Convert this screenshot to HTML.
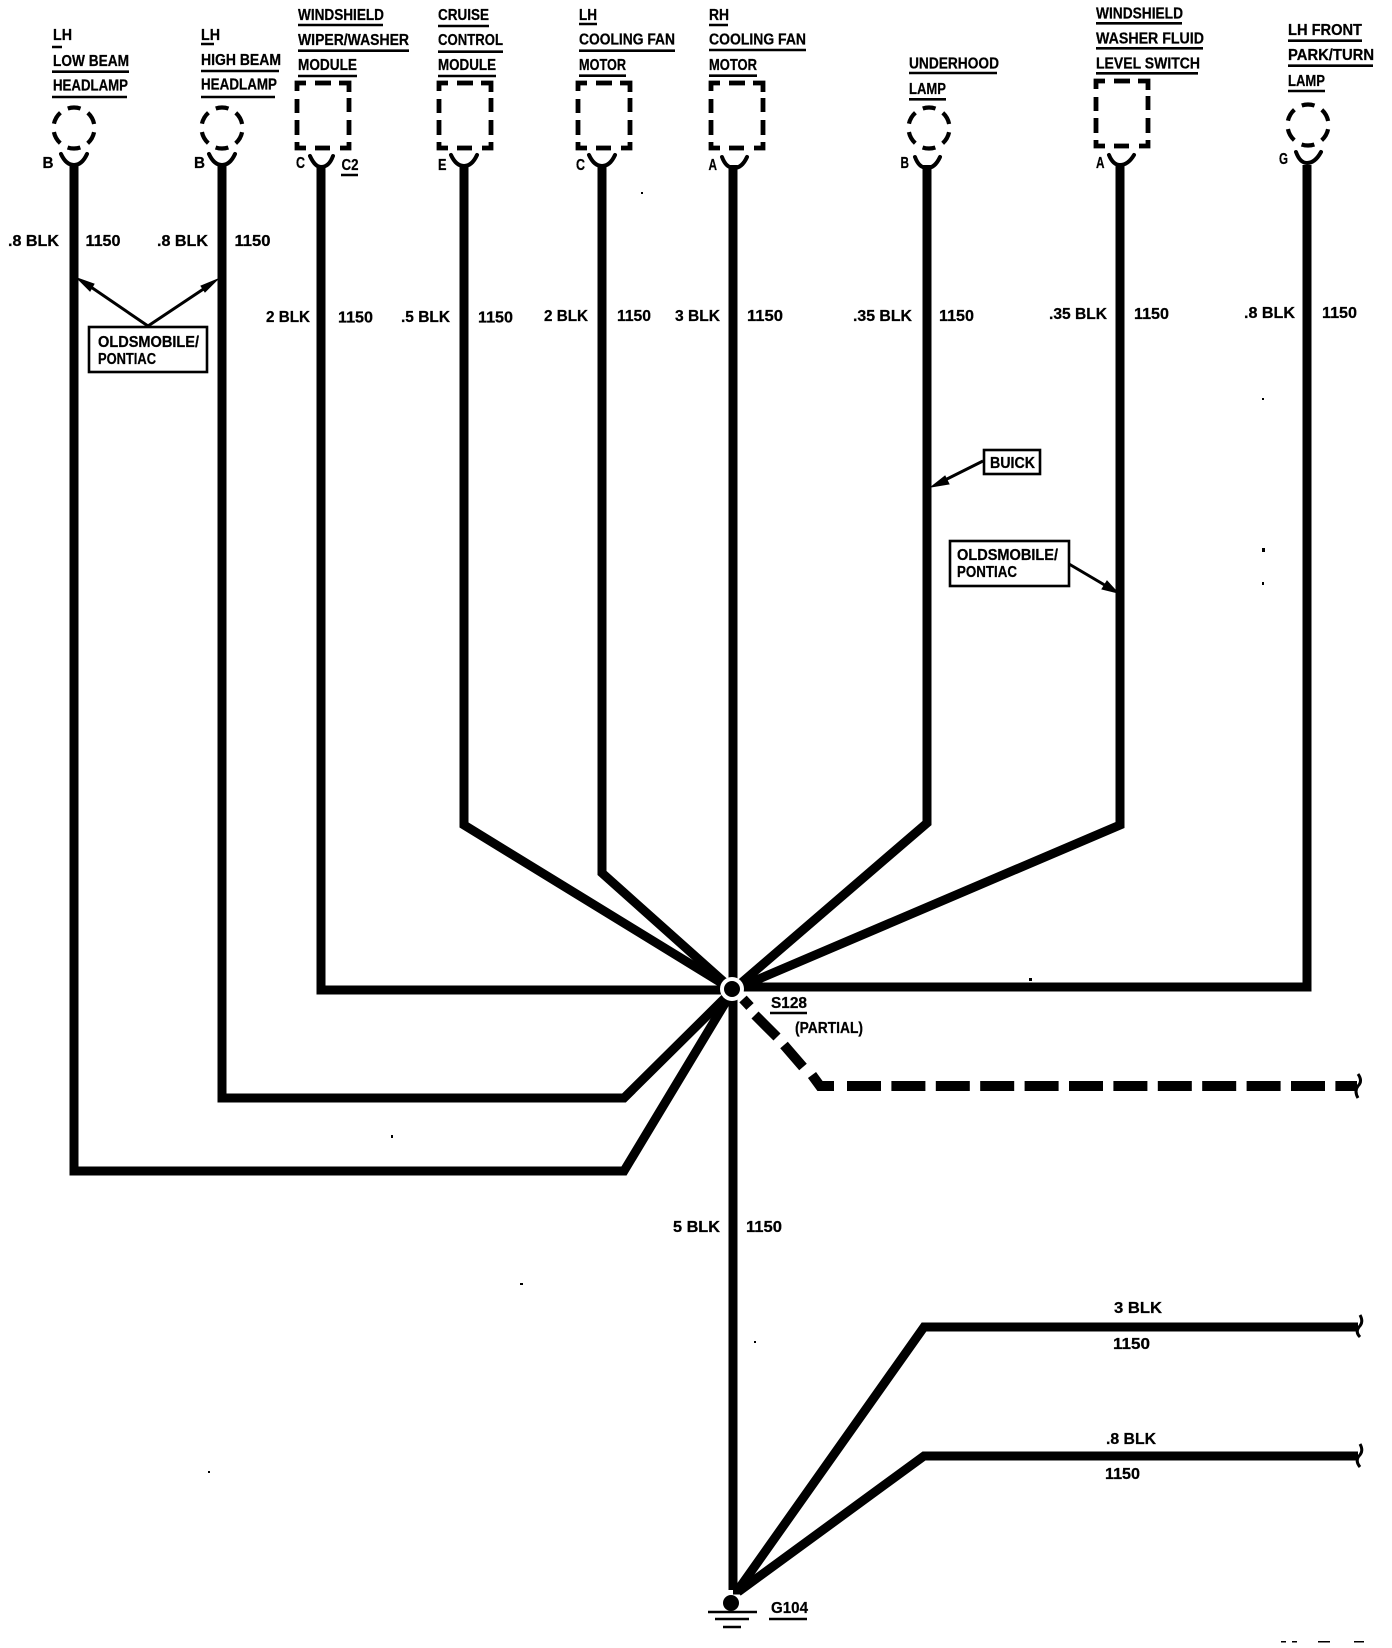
<!DOCTYPE html>
<html>
<head>
<meta charset="utf-8">
<style>
html,body{margin:0;padding:0;background:#fff;width:1392px;height:1648px;overflow:hidden}
svg{display:block}
text{font-family:"Liberation Sans",sans-serif;font-weight:bold;font-size:15.5px;fill:#000;stroke:#000;stroke-width:.25}
.u{stroke:#000;stroke-width:2.6;fill:none}
.w{stroke:#000;stroke-width:9;fill:none;stroke-linejoin:miter}
.t{stroke:#000;stroke-width:4;fill:none;stroke-linecap:round}
.d{stroke:#000;stroke-width:4.2;fill:none;stroke-dasharray:13 8.47;stroke-dashoffset:-4.22}
.b{stroke:#000;stroke-width:2.6;fill:#fff}
.a{stroke:#000;stroke-width:3;fill:none}
</style>
</head>
<body>
<svg width="1392" height="1648" viewBox="0 0 1392 1648" xmlns="http://www.w3.org/2000/svg">
<rect width="1392" height="1648" fill="#fff"/>

<!-- wires -->
<g class="w">
<path d="M74 165V1171H624L733 990"/>
<path d="M222 165V1098H624L733 990"/>
<path d="M321 165V990H733"/>
<path d="M464 165V825L733 990"/>
<path d="M602 165V873L733 990"/>
<path d="M733 165V1590"/>
<path d="M927 165V823L733 990"/>
<path d="M1120 165V825L733 990"/>
<path d="M1307 165V987H733"/>
<path d="M733 1590L738 1590L924 1327H1358"/>
<path d="M738 1592L924 1456H1358"/>
<!-- dashed branch -->
<path stroke-width="10" d="M743 999L750 1006.5M755 1015L777 1037M784 1045L803 1067M812 1075L820 1086H834"/>
<path stroke-width="10" stroke-dasharray="34 10.4" d="M847 1086H1357"/>
</g>

<!-- splice -->
<circle cx="732" cy="989" r="12" fill="#fff"/>
<circle cx="732" cy="989" r="8" fill="#000"/>

<!-- end squiggles -->
<g fill="none" stroke="#000" stroke-width="3">
<path d="M1360 1315Q1364 1322 1359 1327Q1355 1332 1360 1337"/>
<path d="M1360 1444Q1364 1451 1359 1456Q1355 1461 1360 1467"/>
<path d="M1358 1074Q1363 1081 1358 1086Q1354 1091 1358 1098"/>
</g>

<!-- ground -->
<ellipse cx="731" cy="1603" rx="8" ry="8" fill="#000"/>
<path class="u" stroke-width="3" d="M708 1612H757M715 1619H749M723 1627H741"/>

<!-- cups -->
<g class="t">
<path d="M61 154Q66 165 74 165Q82 165 87 154"/>
<path d="M209 154Q214 165 222 165Q230 165 235 154"/>
<path d="M310 156Q315 167 321 167Q329 167 333 156"/>
<path d="M451 155Q456 166 464 166Q472 166 477 155"/>
<path d="M589 155Q594 166 602 166Q610 166 615 155"/>
<path d="M722 157Q726 168 734 168Q742 168 747 157"/>
<path d="M915 157Q919 168 927 168Q935 168 940 157"/>
<path d="M1109 155Q1113 165 1120 165Q1128 165 1134 155"/>
<path d="M1296 152Q1300 163 1307 163Q1315 163 1321 152"/>
</g>

<!-- dashed circles -->
<g class="d">
<circle cx="74" cy="128" r="20.5"/>
<circle cx="222" cy="128" r="20.5"/>
<circle cx="929" cy="128" r="20.5"/>
<circle cx="1308" cy="125" r="20.5"/>
</g>

<!-- dashed rects -->
<defs>
<g id="r" fill="none" stroke="#000" stroke-width="4.8">
<path d="M1 91V83H10"/><path d="M19 83H35"/><path d="M43 83H53V92"/>
<path d="M1 99V113M1 120V135"/><path d="M53 98V112M53 120V135"/>
<path d="M1 142V148H10"/><path d="M19 148H34"/><path d="M44 148H53V142"/>
</g>
</defs>
<use href="#r" x="296" y="0"/>
<use href="#r" x="438" y="0"/>
<use href="#r" x="577" y="0"/>
<use href="#r" x="710" y="0"/>
<use href="#r" x="1095" y="-2"/>

<!-- header underlines -->
<path class="u" d="M52 47H62M52 71.7H129M52 97H127
M201 44H214M201 71H279M201 97H275
M298 25H383M298 50.7H409M298 76H357
M438 26H489M438 51.7H503M438 76H496
M579 24H597M579 50.7H675M579 75.7H626
M709 25H728M709 50H806M709 75.7H757
M909 73H997M909 99.3H946
M1096 23.3H1182M1096 48.3H1203M1096 73.3H1198
M1288 40.7H1362M1288 65.7H1373M1288 91H1325
M341 175H358M770 1013H807M769 1619H807"/>

<!-- header text -->
<text x="53" y="40" textLength="19" lengthAdjust="spacingAndGlyphs">LH</text>
<text x="53" y="66" textLength="76" lengthAdjust="spacingAndGlyphs">LOW BEAM</text>
<text x="53" y="90.5" textLength="75" lengthAdjust="spacingAndGlyphs">HEADLAMP</text>
<text x="201" y="40" textLength="19" lengthAdjust="spacingAndGlyphs">LH</text>
<text x="201" y="65" textLength="80" lengthAdjust="spacingAndGlyphs">HIGH BEAM</text>
<text x="201" y="89.5" textLength="76" lengthAdjust="spacingAndGlyphs">HEADLAMP</text>
<text x="298" y="20" textLength="86" lengthAdjust="spacingAndGlyphs">WINDSHIELD</text>
<text x="298" y="45" textLength="111" lengthAdjust="spacingAndGlyphs">WIPER/WASHER</text>
<text x="298" y="70" textLength="59" lengthAdjust="spacingAndGlyphs">MODULE</text>
<text x="438" y="20" textLength="51" lengthAdjust="spacingAndGlyphs">CRUISE</text>
<text x="438" y="45" textLength="65" lengthAdjust="spacingAndGlyphs">CONTROL</text>
<text x="438" y="70" textLength="58" lengthAdjust="spacingAndGlyphs">MODULE</text>
<text x="579" y="20" textLength="18" lengthAdjust="spacingAndGlyphs">LH</text>
<text x="579" y="44.5" textLength="96" lengthAdjust="spacingAndGlyphs">COOLING FAN</text>
<text x="579" y="70" textLength="47" lengthAdjust="spacingAndGlyphs">MOTOR</text>
<text x="709" y="20" textLength="20" lengthAdjust="spacingAndGlyphs">RH</text>
<text x="709" y="44.5" textLength="97" lengthAdjust="spacingAndGlyphs">COOLING FAN</text>
<text x="709" y="70" textLength="48" lengthAdjust="spacingAndGlyphs">MOTOR</text>
<text x="909" y="68.5" textLength="90" lengthAdjust="spacingAndGlyphs">UNDERHOOD</text>
<text x="909" y="94" textLength="37" lengthAdjust="spacingAndGlyphs">LAMP</text>
<text x="1096" y="18.5" textLength="87" lengthAdjust="spacingAndGlyphs">WINDSHIELD</text>
<text x="1096" y="43.5" textLength="108" lengthAdjust="spacingAndGlyphs">WASHER FLUID</text>
<text x="1096" y="68.5" textLength="104" lengthAdjust="spacingAndGlyphs">LEVEL SWITCH</text>
<text x="1288" y="35" textLength="74" lengthAdjust="spacingAndGlyphs">LH FRONT</text>
<text x="1288" y="60" textLength="86" lengthAdjust="spacingAndGlyphs">PARK/TURN</text>
<text x="1288" y="86" textLength="37" lengthAdjust="spacingAndGlyphs">LAMP</text>

<!-- pins -->
<text x="42.5" y="168" textLength="11" lengthAdjust="spacingAndGlyphs">B</text>
<text x="194" y="168" textLength="11" lengthAdjust="spacingAndGlyphs">B</text>
<text x="296" y="168" textLength="9" lengthAdjust="spacingAndGlyphs">C</text>
<text x="341.5" y="170" textLength="17" lengthAdjust="spacingAndGlyphs">C2</text>
<text x="438" y="170" textLength="8.5" lengthAdjust="spacingAndGlyphs">E</text>
<text x="576" y="170" textLength="9" lengthAdjust="spacingAndGlyphs">C</text>
<text x="708.5" y="170" textLength="8.5" lengthAdjust="spacingAndGlyphs">A</text>
<text x="900.5" y="168" textLength="8.5" lengthAdjust="spacingAndGlyphs">B</text>
<text x="1096" y="168" textLength="8.5" lengthAdjust="spacingAndGlyphs">A</text>
<text x="1279" y="164" textLength="9" lengthAdjust="spacingAndGlyphs">G</text>

<!-- wire labels -->
<text x="8" y="246" textLength="51" lengthAdjust="spacingAndGlyphs">.8 BLK</text>
<text x="85.5" y="246" textLength="35" lengthAdjust="spacingAndGlyphs">1150</text>
<text x="157" y="246" textLength="51" lengthAdjust="spacingAndGlyphs">.8 BLK</text>
<text x="234.5" y="246" textLength="36" lengthAdjust="spacingAndGlyphs">1150</text>
<text x="266" y="322" textLength="44" lengthAdjust="spacingAndGlyphs">2 BLK</text>
<text x="338" y="322.5" textLength="35" lengthAdjust="spacingAndGlyphs">1150</text>
<text x="401" y="322" textLength="49" lengthAdjust="spacingAndGlyphs">.5 BLK</text>
<text x="478" y="322.5" textLength="35" lengthAdjust="spacingAndGlyphs">1150</text>
<text x="544" y="321" textLength="44" lengthAdjust="spacingAndGlyphs">2 BLK</text>
<text x="617" y="321" textLength="34" lengthAdjust="spacingAndGlyphs">1150</text>
<text x="675" y="321" textLength="45" lengthAdjust="spacingAndGlyphs">3 BLK</text>
<text x="747" y="321" textLength="36" lengthAdjust="spacingAndGlyphs">1150</text>
<text x="853" y="321" textLength="59" lengthAdjust="spacingAndGlyphs">.35 BLK</text>
<text x="939" y="321" textLength="35" lengthAdjust="spacingAndGlyphs">1150</text>
<text x="1049" y="319" textLength="58" lengthAdjust="spacingAndGlyphs">.35 BLK</text>
<text x="1134" y="319" textLength="35" lengthAdjust="spacingAndGlyphs">1150</text>
<text x="1244" y="318" textLength="51" lengthAdjust="spacingAndGlyphs">.8 BLK</text>
<text x="1322" y="318" textLength="35" lengthAdjust="spacingAndGlyphs">1150</text>
<text x="673" y="1232" textLength="47" lengthAdjust="spacingAndGlyphs">5 BLK</text>
<text x="746" y="1232" textLength="36" lengthAdjust="spacingAndGlyphs">1150</text>
<text x="1114" y="1313" textLength="48" lengthAdjust="spacingAndGlyphs">3 BLK</text>
<text x="1113" y="1349" textLength="37" lengthAdjust="spacingAndGlyphs">1150</text>
<text x="1106" y="1444" textLength="50" lengthAdjust="spacingAndGlyphs">.8 BLK</text>
<text x="1105" y="1479" textLength="35" lengthAdjust="spacingAndGlyphs">1150</text>
<text x="771" y="1008" textLength="36" lengthAdjust="spacingAndGlyphs">S128</text>
<text x="795" y="1033" textLength="68" lengthAdjust="spacingAndGlyphs">(PARTIAL)</text>
<text x="771" y="1613" textLength="37" lengthAdjust="spacingAndGlyphs">G104</text>

<!-- left note -->
<rect class="b" x="89" y="327" width="118" height="45"/>
<text x="98" y="347" textLength="101" lengthAdjust="spacingAndGlyphs">OLDSMOBILE/</text>
<text x="98" y="364" textLength="58" lengthAdjust="spacingAndGlyphs">PONTIAC</text>
<path class="a" d="M148 326L88 285M148 326L208 286"/>
<path d="M77 278L94 284L90 291Z M218 279L201 286L205 292Z" fill="#000" stroke="#000"/>

<!-- buick note -->
<rect class="b" x="984" y="450" width="56" height="24"/>
<text x="990" y="468" textLength="45" lengthAdjust="spacingAndGlyphs">BUICK</text>
<path class="a" d="M983 461L941 482"/>
<path d="M931 487L945 476L949 484Z" fill="#000" stroke="#000"/>

<!-- right note -->
<rect class="b" x="950" y="541" width="119" height="45"/>
<text x="957" y="560" textLength="101" lengthAdjust="spacingAndGlyphs">OLDSMOBILE/</text>
<text x="957" y="577" textLength="60" lengthAdjust="spacingAndGlyphs">PONTIAC</text>
<path class="a" d="M1069 564L1108 587"/>
<path d="M1118 593L1102 589L1107 581Z" fill="#000" stroke="#000"/>

<!-- specks -->
<g fill="#000">
<rect x="641" y="192" width="2" height="2"/>
<rect x="1262" y="398" width="2" height="2"/>
<rect x="1262" y="548" width="3" height="4"/>
<rect x="1262" y="582" width="2" height="3"/>
<rect x="391" y="1135" width="2" height="3"/>
<rect x="520" y="1283" width="3" height="2"/>
<rect x="208" y="1471" width="2" height="2"/>
<rect x="754" y="1341" width="2" height="2"/>
<rect x="1029" y="978" width="3" height="3"/>
<rect x="1281" y="1641" width="5" height="1.5"/>
<rect x="1292" y="1641" width="5" height="1.5"/>
<rect x="1318" y="1641" width="12" height="1.5"/>
<rect x="1354" y="1641" width="10" height="1.5"/>
</g>
</svg>
</body>
</html>
